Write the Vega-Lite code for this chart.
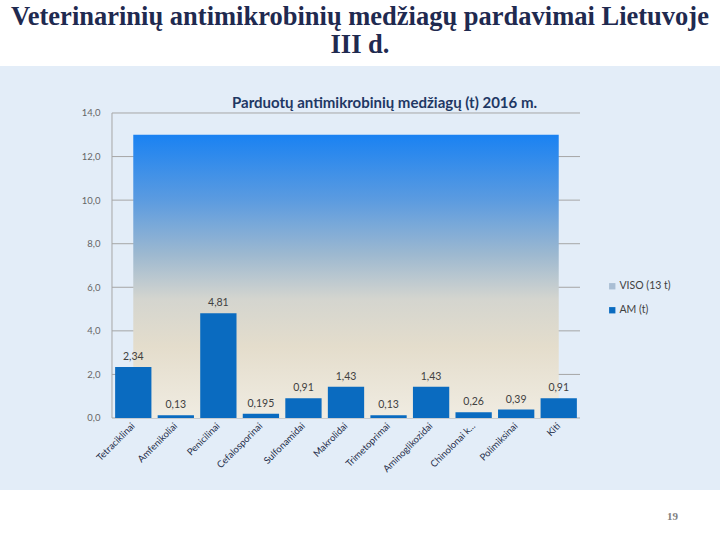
{
  "$schema": "https://vega.github.io/schema/vega-lite/v6.json",
  "width": 720,
  "height": 424,
  "autosize": {"type": "none"},
  "padding": {"left": 0, "right": 0, "top": 66, "bottom": 50},
  "background": "white",
  "title": {
    "text": ["Veterinarinių antimikrobinių medžiagų pardavimai Lietuvoje", "III d."],
    "font": "Liberation Serif",
    "fontSize": 26.5,
    "fontWeight": "bold",
    "color": "#1f2a50",
    "anchor": "middle",
    "frame": "group",
    "lineHeight": 28,
    "offset": 8
  },
  "config": {
    "view": {"fill": "#e3edf8", "stroke": null},
    "locale": {"number": {"decimal": ",", "thousands": " ", "grouping": [3], "currency": ["", " €"]}},
    "legend": {
      "orient": "none",
      "legendX": 607,
      "legendY": 215,
      "padding": 0,
      "symbolType": "square",
      "symbolSize": 40,
      "symbolStrokeWidth": 0,
      "labelFont": "Lato",
      "labelFontSize": 10.5,
      "labelColor": "#404040",
      "labelOffset": 2,
      "rowPadding": 13
    }
  },
  "datasets": {
    "am": [
      {"category": "Tetraciklinai", "value": 2.34, "series": "AM (t)"},
      {"category": "Amfenikoliai", "value": 0.13, "series": "AM (t)"},
      {"category": "Penicilinai", "value": 4.81, "series": "AM (t)"},
      {"category": "Cefalosporinai", "value": 0.195, "series": "AM (t)"},
      {"category": "Sulfonamidai", "value": 0.91, "series": "AM (t)"},
      {"category": "Makrolidai", "value": 1.43, "series": "AM (t)"},
      {"category": "Trimetoprimai", "value": 0.13, "series": "AM (t)"},
      {"category": "Aminoglikozidai", "value": 1.43, "series": "AM (t)"},
      {"category": "Chinolonai k...", "value": 0.26, "series": "AM (t)"},
      {"category": "Polimiksinai", "value": 0.39, "series": "AM (t)"},
      {"category": "Kiti", "value": 0.91, "series": "AM (t)"}
    ],
    "total": [{"series": "VISO (13 t)", "value": 13, "first": "Tetraciklinai", "last": "Kiti"}],
    "grid": [{"v": 0}, {"v": 2}, {"v": 4}, {"v": 6}, {"v": 8}, {"v": 10}, {"v": 12}, {"v": 14}],
    "frame": [{"from": 0, "to": 14}]
  },
  "encoding": {
    "x": {
      "field": "category",
      "type": "nominal",
      "sort": null,
      "scale": {
        "type": "band",
        "domain": ["Tetraciklinai", "Amfenikoliai", "Penicilinai", "Cefalosporinai", "Sulfonamidai", "Makrolidai", "Trimetoprimai", "Aminoglikozidai", "Chinolonai k...", "Polimiksinai", "Kiti"],
        "range": [112, 580],
        "paddingInner": 0.147,
        "paddingOuter": 0.0735
      },
      "axis": {
        "orient": "bottom",
        "offset": -72,
        "domain": false,
        "ticks": false,
        "grid": false,
        "labelAngle": -45,
        "labelAlign": "right",
        "labelBaseline": "middle",
        "labelPadding": 6,
        "labelFont": "Lato",
        "labelFontSize": 9.5,
        "labelColor": "#1f2d4a",
        "title": "19",
        "titleFont": "Liberation Serif",
        "titleFontSize": 11,
        "titleFontWeight": "bold",
        "titleColor": "#808080",
        "titleX": 672,
        "titleY": 98,
        "titleAlign": "center",
        "titleBaseline": "middle"
      }
    },
    "y": {
      "field": "value",
      "type": "quantitative",
      "scale": {"domain": [-3.305, 16.157], "nice": false, "zero": false},
      "axis": {
        "orient": "left",
        "offset": -112,
        "values": [0, 2, 4, 6, 8, 10, 12, 14],
        "format": ".1f",
        "domain": false,
        "ticks": false,
        "grid": false,
        "labelPadding": 12,
        "labelFont": "Lato",
        "labelFontSize": 9.5,
        "labelColor": "#666666",
        "title": "Parduotų antimikrobinių medžiagų (t) 2016 m.",
        "titleFont": "Lato",
        "titleFontSize": 15,
        "titleFontWeight": "bold",
        "titleColor": "#1f3864",
        "titleAngle": 0,
        "titleX": 272,
        "titleY": 41,
        "titleAlign": "center",
        "titleBaseline": "alphabetic"
      }
    }
  },
  "layer": [
    {
      "data": {"name": "grid"},
      "mark": {"type": "rule", "color": "#a6a6a6", "strokeWidth": 1},
      "encoding": {
        "x": {"datum": "Tetraciklinai", "bandPosition": -0.0862},
        "x2": {"datum": "Kiti", "bandPosition": 1.0862},
        "y": {"field": "v", "type": "quantitative"}
      }
    },
    {
      "data": {"name": "frame"},
      "mark": {"type": "rule", "color": "#a6a6a6", "strokeWidth": 1},
      "encoding": {
        "x": {"datum": "Tetraciklinai", "bandPosition": -0.0862},
        "y": {"field": "from", "type": "quantitative"},
        "y2": {"field": "to"}
      }
    },
    {
      "data": {"name": "total"},
      "mark": {
        "type": "bar",
        "color": {
          "gradient": "linear",
          "x1": 0, "y1": 0, "x2": 0, "y2": 1,
          "stops": [
            {"offset": 0, "color": "#1a82f2"},
            {"offset": 0.23, "color": "#5b9be0"},
            {"offset": 0.42, "color": "#9cb8d0"},
            {"offset": 0.58, "color": "#d4d5cf"},
            {"offset": 0.75, "color": "#e4ddcc"},
            {"offset": 1, "color": "#f0ece2"}
          ]
        }
      },
      "encoding": {
        "x": {"field": "first", "type": "nominal", "bandPosition": 0.5},
        "x2": {"field": "last", "bandPosition": 0.5},
        "y": {"field": "value", "type": "quantitative"},
        "y2": {"datum": 0}
      }
    },
    {
      "data": {"name": "am"},
      "mark": {"type": "bar"},
      "encoding": {
        "y2": {"datum": 0},
        "color": {
          "field": "series",
          "type": "nominal",
          "scale": {"domain": ["VISO (13 t)", "AM (t)"], "range": ["#a9bed4", "#0a6bc0"]},
          "legend": {"title": null}
        }
      }
    },
    {
      "data": {"name": "am"},
      "mark": {"type": "text", "font": "Lato", "fontSize": 10.5, "color": "#404040", "baseline": "alphabetic", "dy": -7},
      "encoding": {
        "text": {"field": "value", "type": "quantitative", "format": ".3~f"}
      }
    }
  ]
}
